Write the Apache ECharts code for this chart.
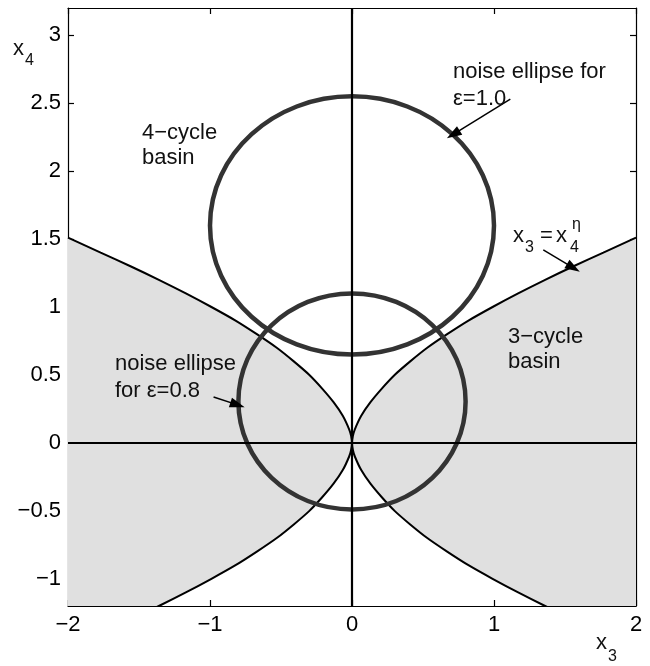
<!DOCTYPE html>
<html>
<head>
<meta charset="utf-8">
<script src="https://cdn.jsdelivr.net/npm/echarts@6/dist/echarts.min.js"></script>
<style>
  html, body { margin: 0; padding: 0; background: #fff; }
  #chart { width: 650px; height: 666px; }
</style>
</head>
<body>
<div id="chart"></div>
<script>
// tick positions
const xTicks = [-2, -1, 0, 1, 2];
const yTicks = [-1, -0.5, 0, 0.5, 1, 1.5, 2, 2.5, 3];

// basin boundary x3 = x4^eta, one branch (|x4| -> |x3|)
const boundaryX4 = [0, 0.05, 0.1, 0.2, 0.3, 0.4, 0.5, 0.6, 0.7, 0.8, 0.9, 1.0, 1.1, 1.2, 1.3, 1.4, 1.51];
const boundaryX3 = [0, 0.006, 0.02, 0.065, 0.13, 0.21, 0.3, 0.41, 0.53, 0.67, 0.82, 0.99, 1.17, 1.36, 1.56, 1.77, 2.0];

// noise ellipses: centre x, centre y, half width, half height
const ellipseEps10 = [0, 1.6, 1.0, 0.95];
const ellipseEps08 = [0, 0.305, 0.8, 0.795];

// annotation arrows: [from, to] in data units
const arrowEps10 = [[1.115, 2.53], [0.713, 2.27]];
const arrowCurve = [[1.347, 1.42], [1.559, 1.288]];
const arrowEps08 = [[-0.975, 0.338], [-0.806, 0.28]];

const FONT = '"Liberation Sans", Arial, Helvetica, sans-serif';
const minus = v => String(v).replace('-', '\u2212');

// left boundary: from the top-left edge down to the cusp and out to the bottom-left
const upperLeft = boundaryX4.map((y, i) => [-boundaryX3[i], y]).reverse();
const lowerLeft = boundaryX4.map((y, i) => [-boundaryX3[i], -y]).slice(1);
const leftCurve = upperLeft.concat(lowerLeft);
const rightCurve = leftCurve.map(p => [-p[0], p[1]]);
const basins = [leftCurve, rightCurve];

const chart = echarts.init(document.getElementById('chart'), null, { renderer: 'canvas' });

function axisX(pos, showLabel) {
  return {
    type: 'value', position: pos, min: -2, max: 2,
    axisLine: { show: true, onZero: false, lineStyle: { color: '#000', width: 1.2 } },
    axisTick: { show: true, inside: true, length: 6, customValues: xTicks, lineStyle: { color: '#000', width: 1.2 } },
    axisLabel: { show: showLabel, customValues: xTicks, formatter: minus, fontSize: 22, fontFamily: FONT, color: '#000', margin: 8 },
    splitLine: { show: false }
  };
}
function axisY(pos, showLabel) {
  return {
    type: 'value', position: pos, min: -1.2, max: 3.2,
    axisLine: { show: true, onZero: false, lineStyle: { color: '#000', width: 1.2 } },
    axisTick: { show: true, inside: true, length: 6, customValues: yTicks, lineStyle: { color: '#000', width: 1.2 } },
    axisLabel: { show: showLabel, customValues: yTicks, formatter: minus, fontSize: 22, fontFamily: FONT, color: '#000', margin: 7 },
    splitLine: { show: false }
  };
}

function txt(x, y, text, size) {
  return {
    type: 'text', x: x, y: y, z: 100,
    style: {
      text: text, fontSize: size || 22, fontFamily: FONT, fill: '#111',
      align: 'left', verticalAlign: 'middle', textAlign: 'left', textVerticalAlign: 'middle'
    }
  };
}

function arrowLine(a) {
  return [{ coord: a[0], symbol: 'none' }, { coord: a[1], symbol: 'triangle', symbolSize: [10, 15] }];
}

const option = {
  animation: false,
  backgroundColor: '#fff',
  grid: { left: 68, right: 14, top: 8, bottom: 60 },
  xAxis: [axisX('bottom', true), axisX('top', false)],
  yAxis: [axisY('left', true), axisY('right', false)],
  series: [
    {
      // shaded 3-cycle basin
      type: 'custom',
      z: 1,
      silent: true,
      data: [[-2, 0], [2, 0]],
      renderItem: function (params, api) {
        const pts = basins[params.dataIndex].map(p => api.coord(p));
        const cs = params.coordSys;
        return {
          type: 'polygon',
          shape: { points: pts },
          style: { fill: '#e0e0e0', stroke: null },
          clipPath: { type: 'rect', shape: { x: cs.x, y: cs.y, width: cs.width, height: cs.height } }
        };
      }
    },
    {
      // boundary, left branch pair, plus zero lines
      type: 'line',
      z: 3,
      data: leftCurve,
      smooth: 0.3,
      symbol: 'none',
      lineStyle: { color: '#000', width: 2 },
      silent: true,
      markLine: {
        silent: true,
        symbol: ['none', 'none'],
        label: { show: false },
        lineStyle: { color: '#000', width: 2.2, type: 'solid' },
        data: [{ xAxis: 0 }, { yAxis: 0 }]
      }
    },
    {
      type: 'line',
      z: 3,
      data: rightCurve,
      smooth: 0.3,
      symbol: 'none',
      lineStyle: { color: '#000', width: 2 },
      silent: true,
      markLine: {
        silent: true,
        label: { show: false },
        lineStyle: { color: '#000', width: 1.5, type: 'solid' },
        itemStyle: { color: '#000' },
        data: [arrowLine(arrowEps10), arrowLine(arrowCurve), arrowLine(arrowEps08)]
      }
    },
    {
      // noise ellipses
      type: 'custom',
      z: 4,
      silent: true,
      data: [ellipseEps10, ellipseEps08],
      encode: { x: 0, y: 1 },
      renderItem: function (params, api) {
        const c = api.coord([api.value(0), api.value(1)]);
        const s = api.size([api.value(2), api.value(3)]);
        return {
          type: 'ellipse',
          shape: { cx: c[0], cy: c[1], rx: s[0], ry: s[1] },
          style: { fill: 'none', stroke: '#333', lineWidth: 4.5 }
        };
      }
    }
  ],
  graphic: [
    txt(142, 133, '4\u2212cycle'), txt(142, 158, 'basin'),
    txt(453, 72, 'noise ellipse for'), txt(453, 99, '\u03b5=1.0'),
    txt(508, 337, '3\u2212cycle'), txt(508, 362, 'basin'),
    txt(115, 364, 'noise ellipse'), txt(115, 391, 'for \u03b5=0.8'),
    // x3 = x4^eta
    txt(513, 236, 'x'), txt(525, 248, '3', 16), txt(540, 236, '='),
    txt(556, 236, 'x'), txt(572, 225, '\u03b7', 16), txt(570, 248, '4', 16),
    // axis names
    txt(13, 49, 'x'), txt(25, 61, '4', 16),
    txt(596, 643, 'x'), txt(608, 657, '3', 16)
  ]
};

chart.setOption(option);
</script>
</body>
</html>
